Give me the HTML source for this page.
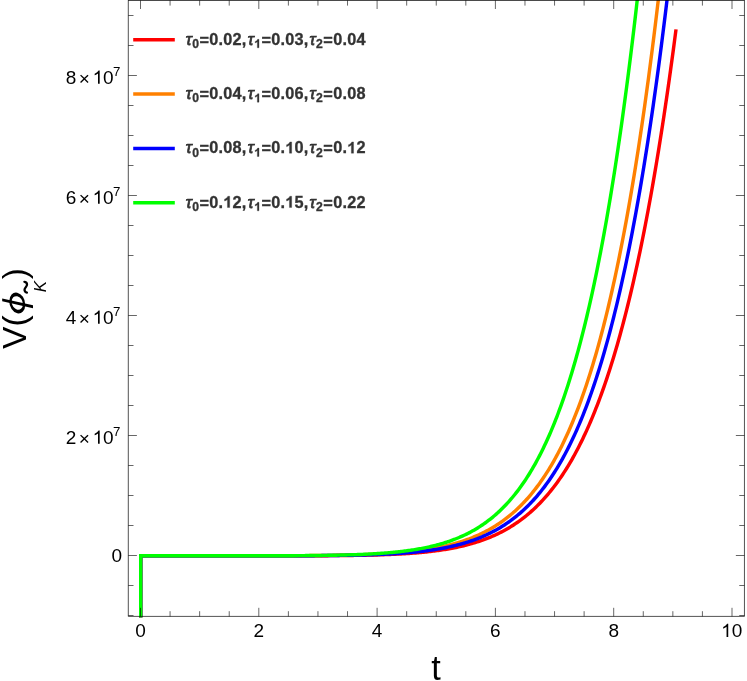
<!DOCTYPE html>
<html><head><meta charset="utf-8"><title>plot</title>
<style>
html,body{margin:0;padding:0;background:#fff;}
body{width:747px;height:681px;position:relative;overflow:hidden;font-family:"Liberation Sans",sans-serif;}
text{font-family:"Liberation Sans",sans-serif;}
.tl{font-size:19px;fill:#000;}
.tm{font-size:19px;}
.sup{font-size:13.3px;fill:#000;}
.leg{font-size:16.3px;font-weight:bold;fill:#333;letter-spacing:0.4px;stroke:#333;stroke-width:0.3px;}
.tau{font-style:italic;font-weight:normal;stroke:#333;stroke-width:0.75px;}
.val{letter-spacing:0.18px;}
.sub{font-size:12.2px;}
.h1{fill:none;stroke:none;}
.al{font-size:33.5px;fill:#000;}
.phi{font-style:italic;stroke:#fff;stroke-width:0.45px;}
.k{font-size:17px;font-style:italic;fill:#000;}
.til{font-size:24px;fill:#000;}
</style></head><body>
<svg width="747" height="681" viewBox="0 0 747 681" style="position:absolute;left:0;top:0;will-change:transform">
<rect width="747" height="681" fill="#fff"/>
<clipPath id="c"><rect x="128.3" y="0" width="616.1500000000001" height="617.6999999999999"/></clipPath>
<g clip-path="url(#c)" fill="none" stroke-width="3.45" stroke-linejoin="miter" stroke-miterlimit="10">
<path d="M140.70,617.60 L140.70,555.80 L140.74,555.80 L143.46,555.80 L144.79,555.80 L146.13,555.80 L147.46,555.80 L148.80,555.80 L150.13,555.80 L151.47,555.80 L152.80,555.80 L154.14,555.80 L155.47,555.80 L156.80,555.80 L158.14,555.80 L159.47,555.80 L160.81,555.80 L162.14,555.80 L163.48,555.80 L164.81,555.80 L166.15,555.80 L167.48,555.80 L168.82,555.80 L170.15,555.80 L171.49,555.80 L172.82,555.80 L174.16,555.80 L175.49,555.80 L176.83,555.80 L178.16,555.80 L179.50,555.80 L180.83,555.80 L182.16,555.80 L183.50,555.80 L184.83,555.80 L186.17,555.80 L187.50,555.80 L188.84,555.80 L190.17,555.80 L191.51,555.80 L192.84,555.80 L194.18,555.80 L195.51,555.80 L196.85,555.80 L198.18,555.80 L199.52,555.80 L200.85,555.80 L202.19,555.80 L203.52,555.80 L204.86,555.80 L206.19,555.80 L207.52,555.80 L208.86,555.80 L210.19,555.80 L211.53,555.80 L212.86,555.80 L214.20,555.80 L215.53,555.80 L216.87,555.80 L218.20,555.80 L219.54,555.80 L220.87,555.80 L222.21,555.80 L223.54,555.80 L224.88,555.80 L226.21,555.80 L227.55,555.80 L228.88,555.80 L230.22,555.80 L231.55,555.80 L232.88,555.80 L234.22,555.80 L235.55,555.80 L236.89,555.80 L238.22,555.80 L239.56,555.80 L240.89,555.80 L242.23,555.80 L243.56,555.80 L244.90,555.80 L246.23,555.80 L247.57,555.80 L248.90,555.80 L250.24,555.80 L251.57,555.80 L252.91,555.80 L254.24,555.80 L255.58,555.80 L256.91,555.80 L258.24,555.80 L259.58,555.80 L260.91,555.79 L262.25,555.79 L263.58,555.79 L264.92,555.79 L266.25,555.79 L267.59,555.79 L268.92,555.79 L270.26,555.79 L271.59,555.79 L272.93,555.79 L274.26,555.79 L275.60,555.79 L276.93,555.79 L278.27,555.79 L279.60,555.78 L280.94,555.78 L282.27,555.78 L283.60,555.78 L284.94,555.78 L286.27,555.78 L287.61,555.78 L288.94,555.77 L290.28,555.77 L291.61,555.77 L292.95,555.77 L294.28,555.77 L295.62,555.76 L296.95,555.76 L298.29,555.76 L299.62,555.76 L300.96,555.75 L302.29,555.75 L303.63,555.75 L304.96,555.74 L306.30,555.74 L307.63,555.74 L308.96,555.73 L310.30,555.73 L311.63,555.73 L312.97,555.72 L314.30,555.72 L315.64,555.71 L316.97,555.71 L318.31,555.70 L319.64,555.69 L320.98,555.69 L322.31,555.68 L323.65,555.67 L324.98,555.67 L326.32,555.66 L327.65,555.65 L328.99,555.64 L330.32,555.64 L331.66,555.63 L332.99,555.62 L334.32,555.61 L335.66,555.60 L336.99,555.59 L338.33,555.57 L339.66,555.56 L341.00,555.55 L342.33,555.54 L343.67,555.52 L345.00,555.51 L346.34,555.49 L347.67,555.48 L349.01,555.46 L350.34,555.44 L351.68,555.43 L353.01,555.41 L354.35,555.39 L355.68,555.37 L357.02,555.35 L358.35,555.33 L359.68,555.30 L361.02,555.28 L362.35,555.25 L363.69,555.23 L365.02,555.20 L366.36,555.17 L367.69,555.14 L369.03,555.11 L370.36,555.08 L371.70,555.05 L373.03,555.02 L374.37,554.98 L375.70,554.94 L377.04,554.91 L378.37,554.87 L379.71,554.82 L381.04,554.78 L382.38,554.74 L383.71,554.69 L385.04,554.64 L386.38,554.59 L387.71,554.54 L389.05,554.49 L390.38,554.43 L391.72,554.38 L393.05,554.32 L394.39,554.25 L395.72,554.19 L397.06,554.12 L398.39,554.06 L399.73,553.98 L401.06,553.91 L402.40,553.83 L403.73,553.76 L405.07,553.67 L406.40,553.59 L407.74,553.50 L409.07,553.41 L410.40,553.32 L411.74,553.22 L413.07,553.12 L414.41,553.02 L415.74,552.91 L417.08,552.80 L418.41,552.69 L419.75,552.57 L421.08,552.45 L422.42,552.32 L423.75,552.19 L425.09,552.06 L426.42,551.92 L427.76,551.77 L429.09,551.63 L430.43,551.47 L431.76,551.32 L433.10,551.15 L434.43,550.99 L435.76,550.82 L437.10,550.64 L438.43,550.45 L439.77,550.27 L441.10,550.07 L442.44,549.87 L443.77,549.66 L445.11,549.45 L446.44,549.23 L447.78,549.00 L449.11,548.77 L450.45,548.53 L451.78,548.28 L453.12,548.03 L454.45,547.77 L455.79,547.50 L457.12,547.22 L458.46,546.93 L459.79,546.64 L461.12,546.34 L462.46,546.02 L463.79,545.70 L465.13,545.38 L466.46,545.04 L467.80,544.69 L469.13,544.33 L470.47,543.96 L471.80,543.58 L473.14,543.19 L474.47,542.79 L475.81,542.38 L477.14,541.96 L478.48,541.53 L479.81,541.08 L481.15,540.62 L482.48,540.15 L483.82,539.67 L485.15,539.18 L486.48,538.67 L487.82,538.14 L489.15,537.61 L490.49,537.06 L491.82,536.49 L493.16,535.91 L494.49,535.32 L495.83,534.71 L497.16,534.08 L498.50,533.44 L499.83,532.78 L501.17,532.10 L502.50,531.41 L503.84,530.69 L505.17,529.96 L506.51,529.22 L507.84,528.45 L509.18,527.66 L510.51,526.86 L511.84,526.03 L513.18,525.18 L514.51,524.32 L515.85,523.43 L517.18,522.51 L518.52,521.58 L519.85,520.62 L521.19,519.65 L522.52,518.64 L523.86,517.61 L525.19,516.56 L526.53,515.48 L527.86,514.38 L529.20,513.25 L530.53,512.09 L531.87,510.91 L533.20,509.70 L534.54,508.46 L535.87,507.19 L537.20,505.89 L538.54,504.56 L539.87,503.20 L541.21,501.80 L542.54,500.38 L543.88,498.92 L545.21,497.43 L546.55,495.91 L547.88,494.35 L549.22,492.75 L550.55,491.12 L551.89,489.45 L553.22,487.75 L554.56,486.00 L555.89,484.22 L557.23,482.40 L558.56,480.54 L559.90,478.63 L561.23,476.69 L562.56,474.70 L563.90,472.66 L565.23,470.59 L566.57,468.46 L567.90,466.30 L569.24,464.08 L570.57,461.82 L571.91,459.51 L573.24,457.15 L574.58,454.73 L575.91,452.27 L577.25,449.75 L578.58,447.19 L579.92,444.56 L581.25,441.88 L582.59,439.15 L583.92,436.36 L585.26,433.51 L586.59,430.60 L587.92,427.63 L589.26,424.60 L590.59,421.50 L591.93,418.34 L593.26,415.12 L594.60,411.83 L595.93,408.48 L597.27,405.05 L598.60,401.56 L599.94,398.00 L601.27,394.36 L602.61,390.65 L603.94,386.87 L605.28,383.01 L606.61,379.08 L607.95,375.06 L609.28,370.97 L610.62,366.79 L611.95,362.54 L613.28,358.20 L614.62,353.77 L615.95,349.26 L617.29,344.66 L618.62,339.97 L619.96,335.19 L621.29,330.32 L622.63,325.36 L623.96,320.29 L625.30,315.14 L626.63,309.88 L627.97,304.52 L629.30,299.06 L630.64,293.50 L631.97,287.83 L633.31,282.06 L634.64,276.18 L635.98,270.18 L637.31,264.08 L638.64,257.86 L639.98,251.52 L641.31,245.07 L642.65,238.50 L643.98,231.80 L645.32,224.99 L646.65,218.05 L647.99,210.98 L649.32,203.78 L650.66,196.45 L651.99,188.99 L653.33,181.39 L654.66,173.65 L656.00,165.78 L657.33,157.76 L658.67,149.60 L660.00,141.30 L661.34,132.84 L662.67,124.24 L664.00,115.48 L665.34,106.57 L666.67,97.50 L668.01,88.27 L669.34,78.88 L670.68,69.32 L672.01,59.60 L673.35,49.71 L674.68,39.64 L676.02,29.40" stroke="#ff0000"/>
<path d="M140.70,617.60 L140.70,555.80 L140.74,555.80 L143.46,555.80 L144.75,555.80 L146.04,555.80 L147.33,555.80 L148.62,555.80 L149.91,555.80 L151.20,555.80 L152.49,555.80 L153.78,555.80 L155.07,555.80 L156.36,555.80 L157.65,555.80 L158.95,555.80 L160.24,555.80 L161.53,555.80 L162.82,555.80 L164.11,555.80 L165.40,555.80 L166.69,555.80 L167.98,555.80 L169.27,555.80 L170.56,555.80 L171.85,555.80 L173.14,555.80 L174.43,555.80 L175.72,555.80 L177.01,555.80 L178.31,555.80 L179.60,555.80 L180.89,555.80 L182.18,555.80 L183.47,555.80 L184.76,555.80 L186.05,555.80 L187.34,555.80 L188.63,555.80 L189.92,555.80 L191.21,555.80 L192.50,555.80 L193.79,555.80 L195.08,555.80 L196.37,555.80 L197.67,555.80 L198.96,555.80 L200.25,555.80 L201.54,555.80 L202.83,555.80 L204.12,555.80 L205.41,555.80 L206.70,555.80 L207.99,555.80 L209.28,555.80 L210.57,555.80 L211.86,555.80 L213.15,555.80 L214.44,555.80 L215.73,555.80 L217.03,555.80 L218.32,555.80 L219.61,555.80 L220.90,555.80 L222.19,555.79 L223.48,555.79 L224.77,555.79 L226.06,555.79 L227.35,555.79 L228.64,555.79 L229.93,555.79 L231.22,555.79 L232.51,555.79 L233.80,555.79 L235.09,555.79 L236.39,555.79 L237.68,555.79 L238.97,555.79 L240.26,555.79 L241.55,555.79 L242.84,555.79 L244.13,555.78 L245.42,555.78 L246.71,555.78 L248.00,555.78 L249.29,555.78 L250.58,555.78 L251.87,555.78 L253.16,555.78 L254.45,555.78 L255.75,555.77 L257.04,555.77 L258.33,555.77 L259.62,555.77 L260.91,555.77 L262.20,555.77 L263.49,555.76 L264.78,555.76 L266.07,555.76 L267.36,555.76 L268.65,555.76 L269.94,555.75 L271.23,555.75 L272.52,555.75 L273.81,555.75 L275.11,555.74 L276.40,555.74 L277.69,555.74 L278.98,555.73 L280.27,555.73 L281.56,555.73 L282.85,555.72 L284.14,555.72 L285.43,555.71 L286.72,555.71 L288.01,555.71 L289.30,555.70 L290.59,555.70 L291.88,555.69 L293.17,555.69 L294.47,555.68 L295.76,555.67 L297.05,555.67 L298.34,555.66 L299.63,555.66 L300.92,555.65 L302.21,555.64 L303.50,555.63 L304.79,555.63 L306.08,555.62 L307.37,555.61 L308.66,555.60 L309.95,555.59 L311.24,555.58 L312.53,555.57 L313.83,555.56 L315.12,555.55 L316.41,555.54 L317.70,555.53 L318.99,555.51 L320.28,555.50 L321.57,555.49 L322.86,555.48 L324.15,555.46 L325.44,555.45 L326.73,555.43 L328.02,555.41 L329.31,555.40 L330.60,555.38 L331.89,555.36 L333.19,555.34 L334.48,555.33 L335.77,555.31 L337.06,555.28 L338.35,555.26 L339.64,555.24 L340.93,555.22 L342.22,555.19 L343.51,555.17 L344.80,555.14 L346.09,555.12 L347.38,555.09 L348.67,555.06 L349.96,555.03 L351.25,555.00 L352.55,554.97 L353.84,554.93 L355.13,554.90 L356.42,554.86 L357.71,554.83 L359.00,554.79 L360.29,554.75 L361.58,554.71 L362.87,554.67 L364.16,554.62 L365.45,554.58 L366.74,554.53 L368.03,554.48 L369.32,554.43 L370.61,554.38 L371.91,554.33 L373.20,554.27 L374.49,554.22 L375.78,554.16 L377.07,554.10 L378.36,554.03 L379.65,553.97 L380.94,553.90 L382.23,553.83 L383.52,553.76 L384.81,553.69 L386.10,553.61 L387.39,553.53 L388.68,553.45 L389.97,553.37 L391.27,553.28 L392.56,553.19 L393.85,553.10 L395.14,553.00 L396.43,552.90 L397.72,552.80 L399.01,552.70 L400.30,552.59 L401.59,552.48 L402.88,552.37 L404.17,552.25 L405.46,552.13 L406.75,552.00 L408.04,551.87 L409.33,551.74 L410.63,551.60 L411.92,551.46 L413.21,551.32 L414.50,551.17 L415.79,551.01 L417.08,550.86 L418.37,550.69 L419.66,550.52 L420.95,550.35 L422.24,550.17 L423.53,549.99 L424.82,549.80 L426.11,549.61 L427.40,549.41 L428.69,549.20 L429.99,548.99 L431.28,548.77 L432.57,548.55 L433.86,548.32 L435.15,548.08 L436.44,547.84 L437.73,547.59 L439.02,547.33 L440.31,547.06 L441.60,546.79 L442.89,546.51 L444.18,546.22 L445.47,545.93 L446.76,545.63 L448.06,545.31 L449.35,544.99 L450.64,544.66 L451.93,544.33 L453.22,543.98 L454.51,543.62 L455.80,543.25 L457.09,542.88 L458.38,542.49 L459.67,542.10 L460.96,541.69 L462.25,541.27 L463.54,540.84 L464.83,540.40 L466.12,539.95 L467.42,539.48 L468.71,539.01 L470.00,538.52 L471.29,538.02 L472.58,537.50 L473.87,536.97 L475.16,536.43 L476.45,535.88 L477.74,535.31 L479.03,534.72 L480.32,534.12 L481.61,533.51 L482.90,532.88 L484.19,532.23 L485.49,531.57 L486.78,530.89 L488.07,530.20 L489.36,529.48 L490.65,528.75 L491.94,528.00 L493.23,527.24 L494.52,526.45 L495.81,525.64 L497.10,524.82 L498.39,523.97 L499.68,523.10 L500.97,522.22 L502.27,521.31 L503.56,520.37 L504.85,519.42 L506.14,518.44 L507.43,517.44 L508.72,516.42 L510.01,515.37 L511.30,514.29 L512.59,513.19 L513.88,512.07 L515.17,510.92 L516.46,509.74 L517.75,508.53 L519.05,507.29 L520.34,506.03 L521.63,504.73 L522.92,503.41 L524.21,502.05 L525.50,500.67 L526.79,499.25 L528.08,497.80 L529.37,496.31 L530.66,494.79 L531.96,493.24 L533.25,491.65 L534.54,490.03 L535.83,488.36 L537.12,486.66 L538.41,484.93 L539.70,483.15 L540.99,481.33 L542.28,479.47 L543.58,477.58 L544.87,475.63 L546.16,473.65 L547.45,471.62 L548.74,469.55 L550.03,467.43 L551.32,465.26 L552.61,463.05 L553.91,460.79 L555.20,458.48 L556.49,456.12 L557.78,453.70 L559.07,451.24 L560.36,448.72 L561.65,446.15 L562.95,443.52 L564.24,440.84 L565.53,438.09 L566.82,435.29 L568.11,432.43 L569.41,429.51 L570.70,426.53 L571.99,423.49 L573.28,420.38 L574.57,417.20 L575.87,413.96 L577.16,410.65 L578.45,407.27 L579.74,403.82 L581.04,400.30 L582.33,396.70 L583.62,393.03 L584.91,389.29 L586.21,385.47 L587.50,381.57 L588.79,377.59 L590.09,373.53 L591.38,369.38 L592.67,365.15 L593.97,360.84 L595.26,356.43 L596.56,351.94 L597.85,347.36 L599.14,342.69 L600.44,337.92 L601.73,333.05 L603.03,328.09 L604.32,323.03 L605.62,317.87 L606.91,312.61 L608.21,307.24 L609.50,301.77 L610.80,296.19 L612.09,290.50 L613.39,284.69 L614.69,278.78 L615.98,272.74 L617.28,266.59 L618.58,260.32 L619.88,253.93 L621.17,247.42 L622.47,240.77 L623.77,234.01 L625.07,227.11 L626.37,220.07 L627.67,212.91 L628.97,205.60 L630.27,198.16 L631.57,190.57 L632.87,182.84 L634.17,174.97 L635.47,166.94 L636.77,158.77 L638.08,150.44 L639.38,141.95 L640.68,133.30 L641.99,124.50 L643.29,115.52 L644.60,106.39 L645.90,97.08 L647.21,87.59 L648.52,77.94 L649.82,68.10 L651.13,58.08 L652.44,47.88 L653.75,37.49 L655.06,26.91 L656.37,16.14 L657.68,5.17 L658.98,-6.00" stroke="#ff8000"/>
<path d="M140.70,617.60 L140.70,555.80 L140.74,555.80 L143.46,555.80 L144.77,555.80 L146.08,555.80 L147.40,555.80 L148.71,555.80 L150.02,555.80 L151.33,555.80 L152.65,555.80 L153.96,555.80 L155.27,555.80 L156.58,555.80 L157.90,555.80 L159.21,555.80 L160.52,555.80 L161.83,555.80 L163.15,555.80 L164.46,555.80 L165.77,555.80 L167.08,555.80 L168.40,555.80 L169.71,555.80 L171.02,555.80 L172.33,555.80 L173.65,555.80 L174.96,555.80 L176.27,555.80 L177.58,555.80 L178.90,555.80 L180.21,555.80 L181.52,555.80 L182.84,555.80 L184.15,555.80 L185.46,555.80 L186.77,555.80 L188.09,555.80 L189.40,555.80 L190.71,555.80 L192.02,555.80 L193.34,555.80 L194.65,555.80 L195.96,555.80 L197.27,555.80 L198.59,555.80 L199.90,555.80 L201.21,555.80 L202.52,555.80 L203.84,555.80 L205.15,555.80 L206.46,555.80 L207.77,555.80 L209.09,555.80 L210.40,555.80 L211.71,555.80 L213.03,555.80 L214.34,555.80 L215.65,555.80 L216.96,555.80 L218.28,555.80 L219.59,555.80 L220.90,555.80 L222.21,555.80 L223.53,555.80 L224.84,555.80 L226.15,555.80 L227.46,555.80 L228.78,555.80 L230.09,555.80 L231.40,555.80 L232.71,555.80 L234.03,555.80 L235.34,555.80 L236.65,555.80 L237.96,555.80 L239.28,555.79 L240.59,555.79 L241.90,555.79 L243.21,555.79 L244.53,555.79 L245.84,555.79 L247.15,555.79 L248.47,555.79 L249.78,555.79 L251.09,555.79 L252.40,555.79 L253.72,555.79 L255.03,555.79 L256.34,555.79 L257.65,555.79 L258.97,555.79 L260.28,555.78 L261.59,555.78 L262.90,555.78 L264.22,555.78 L265.53,555.78 L266.84,555.78 L268.15,555.78 L269.47,555.78 L270.78,555.78 L272.09,555.77 L273.40,555.77 L274.72,555.77 L276.03,555.77 L277.34,555.77 L278.65,555.76 L279.97,555.76 L281.28,555.76 L282.59,555.76 L283.91,555.76 L285.22,555.75 L286.53,555.75 L287.84,555.75 L289.16,555.74 L290.47,555.74 L291.78,555.74 L293.09,555.73 L294.41,555.73 L295.72,555.73 L297.03,555.72 L298.34,555.72 L299.66,555.71 L300.97,555.71 L302.28,555.70 L303.59,555.70 L304.91,555.69 L306.22,555.69 L307.53,555.68 L308.84,555.67 L310.16,555.67 L311.47,555.66 L312.78,555.65 L314.09,555.65 L315.41,555.64 L316.72,555.63 L318.03,555.62 L319.35,555.61 L320.66,555.60 L321.97,555.59 L323.28,555.58 L324.60,555.57 L325.91,555.56 L327.22,555.55 L328.53,555.54 L329.85,555.53 L331.16,555.51 L332.47,555.50 L333.78,555.49 L335.10,555.47 L336.41,555.45 L337.72,555.44 L339.03,555.42 L340.35,555.40 L341.66,555.39 L342.97,555.37 L344.28,555.35 L345.60,555.33 L346.91,555.31 L348.22,555.28 L349.53,555.26 L350.85,555.24 L352.16,555.21 L353.47,555.19 L354.79,555.16 L356.10,555.13 L357.41,555.10 L358.72,555.07 L360.04,555.04 L361.35,555.01 L362.66,554.98 L363.97,554.94 L365.29,554.91 L366.60,554.87 L367.91,554.83 L369.22,554.79 L370.54,554.75 L371.85,554.71 L373.16,554.66 L374.47,554.62 L375.79,554.57 L377.10,554.52 L378.41,554.47 L379.72,554.41 L381.04,554.36 L382.35,554.30 L383.66,554.24 L384.98,554.18 L386.29,554.12 L387.60,554.05 L388.91,553.99 L390.23,553.92 L391.54,553.84 L392.85,553.77 L394.16,553.69 L395.48,553.61 L396.79,553.53 L398.10,553.45 L399.41,553.36 L400.73,553.27 L402.04,553.17 L403.35,553.07 L404.66,552.97 L405.98,552.87 L407.29,552.76 L408.60,552.65 L409.91,552.54 L411.23,552.42 L412.54,552.30 L413.85,552.18 L415.16,552.05 L416.48,551.91 L417.79,551.78 L419.10,551.64 L420.42,551.49 L421.73,551.34 L423.04,551.18 L424.35,551.02 L425.67,550.86 L426.98,550.69 L428.29,550.51 L429.60,550.33 L430.92,550.15 L432.23,549.96 L433.54,549.76 L434.85,549.56 L436.17,549.35 L437.48,549.13 L438.79,548.91 L440.10,548.68 L441.42,548.45 L442.73,548.20 L444.04,547.96 L445.35,547.70 L446.67,547.44 L447.98,547.17 L449.29,546.89 L450.60,546.60 L451.92,546.30 L453.23,546.00 L454.54,545.69 L455.86,545.37 L457.17,545.04 L458.48,544.70 L459.79,544.35 L461.11,543.99 L462.42,543.63 L463.73,543.25 L465.04,542.86 L466.36,542.46 L467.67,542.05 L468.98,541.63 L470.29,541.20 L471.61,540.75 L472.92,540.30 L474.23,539.83 L475.54,539.35 L476.86,538.85 L478.17,538.35 L479.48,537.83 L480.80,537.29 L482.11,536.74 L483.42,536.18 L484.73,535.60 L486.05,535.01 L487.36,534.40 L488.67,533.78 L489.98,533.14 L491.30,532.48 L492.61,531.81 L493.92,531.12 L495.23,530.41 L496.55,529.69 L497.86,528.94 L499.17,528.18 L500.48,527.40 L501.80,526.60 L503.11,525.77 L504.42,524.93 L505.74,524.07 L507.05,523.18 L508.36,522.28 L509.67,521.35 L510.99,520.40 L512.30,519.42 L513.61,518.42 L514.92,517.40 L516.24,516.35 L517.55,515.28 L518.86,514.18 L520.18,513.06 L521.49,511.90 L522.80,510.72 L524.11,509.52 L525.43,508.28 L526.74,507.01 L528.05,505.72 L529.37,504.39 L530.68,503.04 L531.99,501.65 L533.30,500.22 L534.62,498.77 L535.93,497.28 L537.24,495.76 L538.56,494.20 L539.87,492.61 L541.18,490.98 L542.49,489.31 L543.81,487.61 L545.12,485.86 L546.43,484.08 L547.75,482.26 L549.06,480.39 L550.37,478.48 L551.69,476.53 L553.00,474.54 L554.31,472.50 L555.63,470.42 L556.94,468.29 L558.25,466.12 L559.57,463.89 L560.88,461.62 L562.19,459.30 L563.51,456.92 L564.82,454.50 L566.13,452.02 L567.45,449.49 L568.76,446.90 L570.07,444.26 L571.39,441.56 L572.70,438.81 L574.01,435.99 L575.33,433.12 L576.64,430.18 L577.96,427.18 L579.27,424.12 L580.58,420.99 L581.90,417.80 L583.21,414.54 L584.53,411.21 L585.84,407.81 L587.16,404.34 L588.47,400.80 L589.78,397.19 L591.10,393.50 L592.41,389.74 L593.73,385.89 L595.04,381.97 L596.36,377.97 L597.67,373.89 L598.99,369.72 L600.31,365.47 L601.62,361.14 L602.94,356.71 L604.25,352.20 L605.57,347.60 L606.88,342.90 L608.20,338.11 L609.52,333.23 L610.83,328.24 L612.15,323.16 L613.47,317.98 L614.78,312.70 L616.10,307.31 L617.42,301.81 L618.74,296.21 L620.05,290.50 L621.37,284.68 L622.69,278.74 L624.01,272.69 L625.33,266.52 L626.65,260.23 L627.97,253.82 L629.29,247.29 L630.61,240.64 L631.93,233.85 L633.25,226.94 L634.57,219.89 L635.89,212.71 L637.21,205.40 L638.53,197.94 L639.86,190.35 L641.18,182.61 L642.50,174.73 L643.83,166.70 L645.15,158.52 L646.47,150.19 L647.80,141.70 L649.13,133.05 L650.45,124.25 L651.78,115.28 L653.10,106.15 L654.43,96.85 L655.76,87.38 L657.09,77.73 L658.42,67.91 L659.75,57.91 L661.08,47.73 L662.41,37.37 L663.74,26.81 L665.08,16.07 L666.41,5.13 L667.73,-6.00" stroke="#0000ff"/>
<path d="M140.70,617.60 L140.70,555.80 L140.74,555.80 L143.46,555.80 L144.70,555.80 L145.93,555.80 L147.17,555.80 L148.41,555.80 L149.65,555.80 L150.88,555.80 L152.12,555.80 L153.36,555.80 L154.60,555.80 L155.84,555.80 L157.07,555.80 L158.31,555.80 L159.55,555.80 L160.79,555.80 L162.03,555.80 L163.26,555.80 L164.50,555.80 L165.74,555.80 L166.98,555.80 L168.21,555.80 L169.45,555.80 L170.69,555.80 L171.93,555.80 L173.17,555.80 L174.40,555.80 L175.64,555.80 L176.88,555.80 L178.12,555.80 L179.36,555.80 L180.59,555.80 L181.83,555.80 L183.07,555.80 L184.31,555.80 L185.54,555.80 L186.78,555.80 L188.02,555.80 L189.26,555.80 L190.50,555.80 L191.73,555.80 L192.97,555.80 L194.21,555.80 L195.45,555.80 L196.69,555.80 L197.92,555.80 L199.16,555.80 L200.40,555.80 L201.64,555.80 L202.87,555.80 L204.11,555.80 L205.35,555.80 L206.59,555.80 L207.83,555.80 L209.06,555.80 L210.30,555.80 L211.54,555.80 L212.78,555.80 L214.02,555.80 L215.25,555.80 L216.49,555.80 L217.73,555.80 L218.97,555.80 L220.20,555.80 L221.44,555.80 L222.68,555.79 L223.92,555.79 L225.16,555.79 L226.39,555.79 L227.63,555.79 L228.87,555.79 L230.11,555.79 L231.35,555.79 L232.58,555.79 L233.82,555.79 L235.06,555.79 L236.30,555.79 L237.53,555.79 L238.77,555.79 L240.01,555.79 L241.25,555.79 L242.49,555.79 L243.72,555.78 L244.96,555.78 L246.20,555.78 L247.44,555.78 L248.68,555.78 L249.91,555.78 L251.15,555.78 L252.39,555.78 L253.63,555.78 L254.86,555.77 L256.10,555.77 L257.34,555.77 L258.58,555.77 L259.82,555.77 L261.05,555.77 L262.29,555.76 L263.53,555.76 L264.77,555.76 L266.01,555.76 L267.24,555.75 L268.48,555.75 L269.72,555.75 L270.96,555.75 L272.19,555.74 L273.43,555.74 L274.67,555.74 L275.91,555.73 L277.15,555.73 L278.38,555.73 L279.62,555.72 L280.86,555.72 L282.10,555.71 L283.34,555.71 L284.57,555.71 L285.81,555.70 L287.05,555.70 L288.29,555.69 L289.52,555.68 L290.76,555.68 L292.00,555.67 L293.24,555.67 L294.48,555.66 L295.71,555.65 L296.95,555.65 L298.19,555.64 L299.43,555.63 L300.67,555.62 L301.90,555.61 L303.14,555.61 L304.38,555.60 L305.62,555.59 L306.85,555.58 L308.09,555.57 L309.33,555.56 L310.57,555.54 L311.81,555.53 L313.04,555.52 L314.28,555.51 L315.52,555.49 L316.76,555.48 L318.00,555.47 L319.23,555.45 L320.47,555.44 L321.71,555.42 L322.95,555.40 L324.18,555.39 L325.42,555.37 L326.66,555.35 L327.90,555.33 L329.14,555.31 L330.37,555.29 L331.61,555.27 L332.85,555.24 L334.09,555.22 L335.33,555.20 L336.56,555.17 L337.80,555.14 L339.04,555.12 L340.28,555.09 L341.51,555.06 L342.75,555.03 L343.99,555.00 L345.23,554.97 L346.47,554.93 L347.70,554.90 L348.94,554.86 L350.18,554.82 L351.42,554.79 L352.66,554.74 L353.89,554.70 L355.13,554.66 L356.37,554.62 L357.61,554.57 L358.84,554.52 L360.08,554.47 L361.32,554.42 L362.56,554.37 L363.80,554.31 L365.03,554.26 L366.27,554.20 L367.51,554.14 L368.75,554.08 L369.99,554.01 L371.22,553.95 L372.46,553.88 L373.70,553.81 L374.94,553.73 L376.17,553.66 L377.41,553.58 L378.65,553.50 L379.89,553.41 L381.13,553.33 L382.36,553.24 L383.60,553.15 L384.84,553.05 L386.08,552.96 L387.32,552.85 L388.55,552.75 L389.79,552.64 L391.03,552.53 L392.27,552.42 L393.50,552.30 L394.74,552.18 L395.98,552.05 L397.22,551.93 L398.46,551.79 L399.69,551.66 L400.93,551.52 L402.17,551.37 L403.41,551.22 L404.65,551.07 L405.88,550.91 L407.12,550.74 L408.36,550.58 L409.60,550.40 L410.83,550.22 L412.07,550.04 L413.31,549.85 L414.55,549.66 L415.79,549.46 L417.02,549.25 L418.26,549.04 L419.50,548.82 L420.74,548.59 L421.98,548.36 L423.21,548.13 L424.45,547.88 L425.69,547.63 L426.93,547.37 L428.16,547.11 L429.40,546.83 L430.64,546.55 L431.88,546.26 L433.12,545.97 L434.35,545.66 L435.59,545.35 L436.83,545.03 L438.07,544.69 L439.31,544.35 L440.54,544.01 L441.78,543.65 L443.02,543.28 L444.26,542.90 L445.49,542.51 L446.73,542.11 L447.97,541.70 L449.21,541.28 L450.45,540.85 L451.68,540.41 L452.92,539.95 L454.16,539.48 L455.40,539.01 L456.64,538.51 L457.87,538.01 L459.11,537.49 L460.35,536.96 L461.59,536.41 L462.82,535.86 L464.06,535.28 L465.30,534.69 L466.54,534.09 L467.78,533.47 L469.01,532.84 L470.25,532.19 L471.49,531.52 L472.73,530.84 L473.97,530.14 L475.20,529.42 L476.44,528.68 L477.68,527.93 L478.92,527.15 L480.16,526.36 L481.39,525.55 L482.63,524.72 L483.87,523.87 L485.11,522.99 L486.35,522.10 L487.58,521.18 L488.82,520.24 L490.06,519.28 L491.30,518.30 L492.54,517.29 L493.77,516.26 L495.01,515.20 L496.25,514.12 L497.49,513.01 L498.73,511.88 L499.96,510.72 L501.20,509.53 L502.44,508.32 L503.68,507.07 L504.92,505.80 L506.15,504.50 L507.39,503.16 L508.63,501.80 L509.87,500.40 L511.11,498.97 L512.34,497.51 L513.58,496.02 L514.82,494.49 L516.06,492.93 L517.30,491.33 L518.54,489.69 L519.77,488.02 L521.01,486.31 L522.25,484.56 L523.49,482.78 L524.73,480.95 L525.97,479.08 L527.20,477.17 L528.44,475.22 L529.68,473.22 L530.92,471.18 L532.16,469.10 L533.40,466.97 L534.63,464.79 L535.87,462.57 L537.11,460.29 L538.35,457.97 L539.59,455.60 L540.83,453.17 L542.07,450.70 L543.31,448.17 L544.54,445.58 L545.78,442.94 L547.02,440.25 L548.26,437.49 L549.50,434.68 L550.74,431.81 L551.98,428.88 L553.22,425.88 L554.46,422.83 L555.70,419.70 L556.94,416.52 L558.18,413.26 L559.41,409.94 L560.65,406.55 L561.89,403.09 L563.13,399.56 L564.37,395.95 L565.61,392.28 L566.85,388.52 L568.09,384.69 L569.33,380.78 L570.57,376.79 L571.82,372.72 L573.06,368.56 L574.30,364.33 L575.54,360.00 L576.78,355.59 L578.02,351.10 L579.26,346.51 L580.50,341.83 L581.74,337.05 L582.99,332.18 L584.23,327.22 L585.47,322.15 L586.71,316.99 L587.95,311.72 L589.20,306.35 L590.44,300.88 L591.68,295.29 L592.93,289.60 L594.17,283.80 L595.41,277.88 L596.66,271.85 L597.90,265.71 L599.14,259.44 L600.39,253.06 L601.63,246.55 L602.88,239.91 L604.13,233.15 L605.37,226.26 L606.62,219.24 L607.86,212.08 L609.11,204.79 L610.36,197.36 L611.61,189.80 L612.85,182.08 L614.10,174.23 L615.35,166.22 L616.60,158.07 L617.85,149.76 L619.10,141.30 L620.35,132.68 L621.60,123.91 L622.85,114.97 L624.11,105.86 L625.36,96.59 L626.61,87.14 L627.87,77.52 L629.12,67.73 L630.38,57.76 L631.63,47.60 L632.89,37.26 L634.15,26.74 L635.41,16.02 L636.66,5.11 L637.91,-6.00" stroke="#00ff00"/>
</g>
<path d="M128.3,0.4V616.4H744.45V0.4" fill="none" stroke="#000" stroke-width="0.68"/>
<path d="M127.96000000000001,0.4H744.7900000000001" fill="none" stroke="#000" stroke-width="0.8"/>
<path d="M140.50,616.4v-8.6 M140.50,0.4v8.6 M170.07,616.4v-5.2 M170.07,0.4v5.2 M199.65,616.4v-5.2 M199.65,0.4v5.2 M229.22,616.4v-5.2 M229.22,0.4v5.2 M258.80,616.4v-8.6 M258.80,0.4v8.6 M288.38,616.4v-5.2 M288.38,0.4v5.2 M317.95,616.4v-5.2 M317.95,0.4v5.2 M347.52,616.4v-5.2 M347.52,0.4v5.2 M377.10,616.4v-8.6 M377.10,0.4v8.6 M406.68,616.4v-5.2 M406.68,0.4v5.2 M436.25,616.4v-5.2 M436.25,0.4v5.2 M465.82,616.4v-5.2 M465.82,0.4v5.2 M495.40,616.4v-8.6 M495.40,0.4v8.6 M524.97,616.4v-5.2 M524.97,0.4v5.2 M554.55,616.4v-5.2 M554.55,0.4v5.2 M584.12,616.4v-5.2 M584.12,0.4v5.2 M613.70,616.4v-8.6 M613.70,0.4v8.6 M643.27,616.4v-5.2 M643.27,0.4v5.2 M672.85,616.4v-5.2 M672.85,0.4v5.2 M702.42,616.4v-5.2 M702.42,0.4v5.2 M732.00,616.4v-8.6 M732.00,0.4v8.6 M128.3,615.50h5.2 M744.45,615.50h-5.2 M128.3,585.50h5.2 M744.45,585.50h-5.2 M128.3,555.50h8.6 M744.45,555.50h-8.6 M128.3,525.50h5.2 M744.45,525.50h-5.2 M128.3,495.50h5.2 M744.45,495.50h-5.2 M128.3,465.50h5.2 M744.45,465.50h-5.2 M128.3,435.50h8.6 M744.45,435.50h-8.6 M128.3,405.50h5.2 M744.45,405.50h-5.2 M128.3,375.50h5.2 M744.45,375.50h-5.2 M128.3,345.50h5.2 M744.45,345.50h-5.2 M128.3,315.50h8.6 M744.45,315.50h-8.6 M128.3,285.50h5.2 M744.45,285.50h-5.2 M128.3,255.50h5.2 M744.45,255.50h-5.2 M128.3,225.50h5.2 M744.45,225.50h-5.2 M128.3,195.50h8.6 M744.45,195.50h-8.6 M128.3,165.50h5.2 M744.45,165.50h-5.2 M128.3,135.50h5.2 M744.45,135.50h-5.2 M128.3,105.50h5.2 M744.45,105.50h-5.2 M128.3,75.50h8.6 M744.45,75.50h-8.6 M128.3,45.50h5.2 M744.45,45.50h-5.2 M128.3,15.50h5.2 M744.45,15.50h-5.2" stroke="#000" stroke-width="0.6" fill="none"/>
<path d="M133.2,39.7H174.8" stroke="#ff0000" stroke-width="3.45" fill="none"/>
<text x="185.7" y="44.50" class="leg"><tspan class="tau">τ</tspan><tspan class="sub" dy="3.3">0</tspan><tspan dy="-2.1">=</tspan><tspan dy="-1.2" class="val">0.02,</tspan></text>
<text x="247.7" y="44.50" class="leg"><tspan class="tau">τ</tspan><tspan class="sub" dy="3.3"><tspan class="h1">1</tspan></tspan><tspan dy="-2.1">=</tspan><tspan dy="-1.2" class="val">0.03,</tspan></text>
<text x="309.6" y="44.50" class="leg"><tspan class="tau">τ</tspan><tspan class="sub" dy="3.3">2</tspan><tspan dy="-2.1">=</tspan><tspan dy="-1.2" class="val">0.04</tspan></text>
<path d="M133.2,94.05H174.8" stroke="#ff8000" stroke-width="3.45" fill="none"/>
<text x="185.7" y="98.85" class="leg"><tspan class="tau">τ</tspan><tspan class="sub" dy="3.3">0</tspan><tspan dy="-2.1">=</tspan><tspan dy="-1.2" class="val">0.04,</tspan></text>
<text x="247.7" y="98.85" class="leg"><tspan class="tau">τ</tspan><tspan class="sub" dy="3.3"><tspan class="h1">1</tspan></tspan><tspan dy="-2.1">=</tspan><tspan dy="-1.2" class="val">0.06,</tspan></text>
<text x="309.6" y="98.85" class="leg"><tspan class="tau">τ</tspan><tspan class="sub" dy="3.3">2</tspan><tspan dy="-2.1">=</tspan><tspan dy="-1.2" class="val">0.08</tspan></text>
<path d="M133.2,148.4H174.8" stroke="#0000ff" stroke-width="3.45" fill="none"/>
<text x="185.7" y="153.20" class="leg"><tspan class="tau">τ</tspan><tspan class="sub" dy="3.3">0</tspan><tspan dy="-2.1">=</tspan><tspan dy="-1.2" class="val">0.08,</tspan></text>
<text x="247.7" y="153.20" class="leg"><tspan class="tau">τ</tspan><tspan class="sub" dy="3.3"><tspan class="h1">1</tspan></tspan><tspan dy="-2.1">=</tspan><tspan dy="-1.2" class="val">0.<tspan class="h1">1</tspan>0,</tspan></text>
<text x="309.6" y="153.20" class="leg"><tspan class="tau">τ</tspan><tspan class="sub" dy="3.3">2</tspan><tspan dy="-2.1">=</tspan><tspan dy="-1.2" class="val">0.<tspan class="h1">1</tspan>2</tspan></text>
<path d="M133.2,202.73H174.8" stroke="#00ff00" stroke-width="3.45" fill="none"/>
<text x="185.7" y="207.53" class="leg"><tspan class="tau">τ</tspan><tspan class="sub" dy="3.3">0</tspan><tspan dy="-2.1">=</tspan><tspan dy="-1.2" class="val">0.<tspan class="h1">1</tspan>2,</tspan></text>
<text x="247.7" y="207.53" class="leg"><tspan class="tau">τ</tspan><tspan class="sub" dy="3.3"><tspan class="h1">1</tspan></tspan><tspan dy="-2.1">=</tspan><tspan dy="-1.2" class="val">0.<tspan class="h1">1</tspan>5,</tspan></text>
<text x="309.6" y="207.53" class="leg"><tspan class="tau">τ</tspan><tspan class="sub" dy="3.3">2</tspan><tspan dy="-2.1">=</tspan><tspan dy="-1.2" class="val">0.22</tspan></text>
<text x="140.50" y="637.0" class="tl" text-anchor="middle">0</text>
<text x="258.80" y="637.0" class="tl" text-anchor="middle">2</text>
<text x="377.10" y="637.0" class="tl" text-anchor="middle">4</text>
<text x="495.40" y="637.0" class="tl" text-anchor="middle">6</text>
<text x="613.70" y="637.0" class="tl" text-anchor="middle">8</text>
<path d="M763 0H583V1147Q518 1085 412.5 1023T223 930V1104Q373 1175 485 1275T644 1472H763Z" transform="translate(721.15,637.00) scale(0.009277,-0.008953)" fill="#000"/>
<text x="731.72" y="637.0" class="tl">0</text>
<text x="111.45" y="561.5" class="tl">0</text>
<text x="71" y="443.7" class="tl" text-anchor="middle">2</text><text x="84.35" y="444.5" class="tl" text-anchor="middle">×</text><path d="M763 0H583V1147Q518 1085 412.5 1023T223 930V1104Q373 1175 485 1275T644 1472H763Z" transform="translate(92.60,443.70) scale(0.009277,-0.008953)" fill="#000"/><text x="103.06" y="443.7" class="tl">0</text><text x="120.3" y="436.09999999999997" class="sup" text-anchor="end">7</text>
<text x="71" y="323.7" class="tl" text-anchor="middle">4</text><text x="84.35" y="324.5" class="tl" text-anchor="middle">×</text><path d="M763 0H583V1147Q518 1085 412.5 1023T223 930V1104Q373 1175 485 1275T644 1472H763Z" transform="translate(92.60,323.70) scale(0.009277,-0.008953)" fill="#000"/><text x="103.06" y="323.7" class="tl">0</text><text x="120.3" y="316.09999999999997" class="sup" text-anchor="end">7</text>
<text x="71" y="203.7" class="tl" text-anchor="middle">6</text><text x="84.35" y="204.5" class="tl" text-anchor="middle">×</text><path d="M763 0H583V1147Q518 1085 412.5 1023T223 930V1104Q373 1175 485 1275T644 1472H763Z" transform="translate(92.60,203.70) scale(0.009277,-0.008953)" fill="#000"/><text x="103.06" y="203.7" class="tl">0</text><text x="120.3" y="196.1" class="sup" text-anchor="end">7</text>
<text x="71" y="83.7" class="tl" text-anchor="middle">8</text><text x="84.35" y="84.5" class="tl" text-anchor="middle">×</text><path d="M763 0H583V1147Q518 1085 412.5 1023T223 930V1104Q373 1175 485 1275T644 1472H763Z" transform="translate(92.60,83.70) scale(0.009277,-0.008953)" fill="#000"/><text x="103.06" y="83.7" class="tl">0</text><text x="120.3" y="76.10000000000001" class="sup" text-anchor="end">7</text>
<text x="436" y="679.8" class="al" style="font-size:34.2px" text-anchor="middle">t</text>
<g transform="translate(26,348.9) rotate(-90)"><text x="0" y="0" class="al">V(</text><g transform="skewX(-12)"><path fill-rule="evenodd" d="M33.79,-8.75a10.3,8.0 0 1,0 20.60,0a10.3,8.0 0 1,0 -20.60,0Z M37.39,-8.75a6.70,5.65 0 1,0 13.40,0a6.70,5.65 0 1,0 -13.40,0Z" fill="#000"/></g><path d="M40.75,7H43.65L50.45,-23.8H47.55Z" fill="#000"/><text x="56.6" y="20" class="k">K</text><text x="69.7" y="0" class="al">)</text></g>
<path d="M26.9,292.6 C25.5,292.5 24.3,291 24.6,289.3 C25,287.5 26.9,286.5 27.0,284.8 C27.1,283 25.8,281.8 24.4,281.8" fill="none" stroke="#000" stroke-width="2.3" stroke-linecap="round"/>
<path d="M806 0H525V1059Q371 915 162 846V1101Q272 1137 401 1237.5T578 1472H806Z" transform="translate(254.20,47.80) scale(0.005957,-0.005749)" fill="#333" stroke="#333" stroke-width="50.4"/>
<path d="M806 0H525V1059Q371 915 162 846V1101Q272 1137 401 1237.5T578 1472H806Z" transform="translate(254.20,102.15) scale(0.005957,-0.005749)" fill="#333" stroke="#333" stroke-width="50.4"/>
<path d="M806 0H525V1059Q371 915 162 846V1101Q272 1137 401 1237.5T578 1472H806Z" transform="translate(254.20,156.50) scale(0.005957,-0.005749)" fill="#333" stroke="#333" stroke-width="50.4"/>
<path d="M806 0H525V1059Q371 915 162 846V1101Q272 1137 401 1237.5T578 1472H806Z" transform="translate(285.26,153.20) scale(0.007959,-0.007680)" fill="#333" stroke="#333" stroke-width="37.7"/>
<path d="M806 0H525V1059Q371 915 162 846V1101Q272 1137 401 1237.5T578 1472H806Z" transform="translate(347.16,153.20) scale(0.007959,-0.007680)" fill="#333" stroke="#333" stroke-width="37.7"/>
<path d="M806 0H525V1059Q371 915 162 846V1101Q272 1137 401 1237.5T578 1472H806Z" transform="translate(223.26,207.53) scale(0.007959,-0.007680)" fill="#333" stroke="#333" stroke-width="37.7"/>
<path d="M806 0H525V1059Q371 915 162 846V1101Q272 1137 401 1237.5T578 1472H806Z" transform="translate(254.20,210.83) scale(0.005957,-0.005749)" fill="#333" stroke="#333" stroke-width="50.4"/>
<path d="M806 0H525V1059Q371 915 162 846V1101Q272 1137 401 1237.5T578 1472H806Z" transform="translate(285.26,207.53) scale(0.007959,-0.007680)" fill="#333" stroke="#333" stroke-width="37.7"/>
</svg>
</body></html>
